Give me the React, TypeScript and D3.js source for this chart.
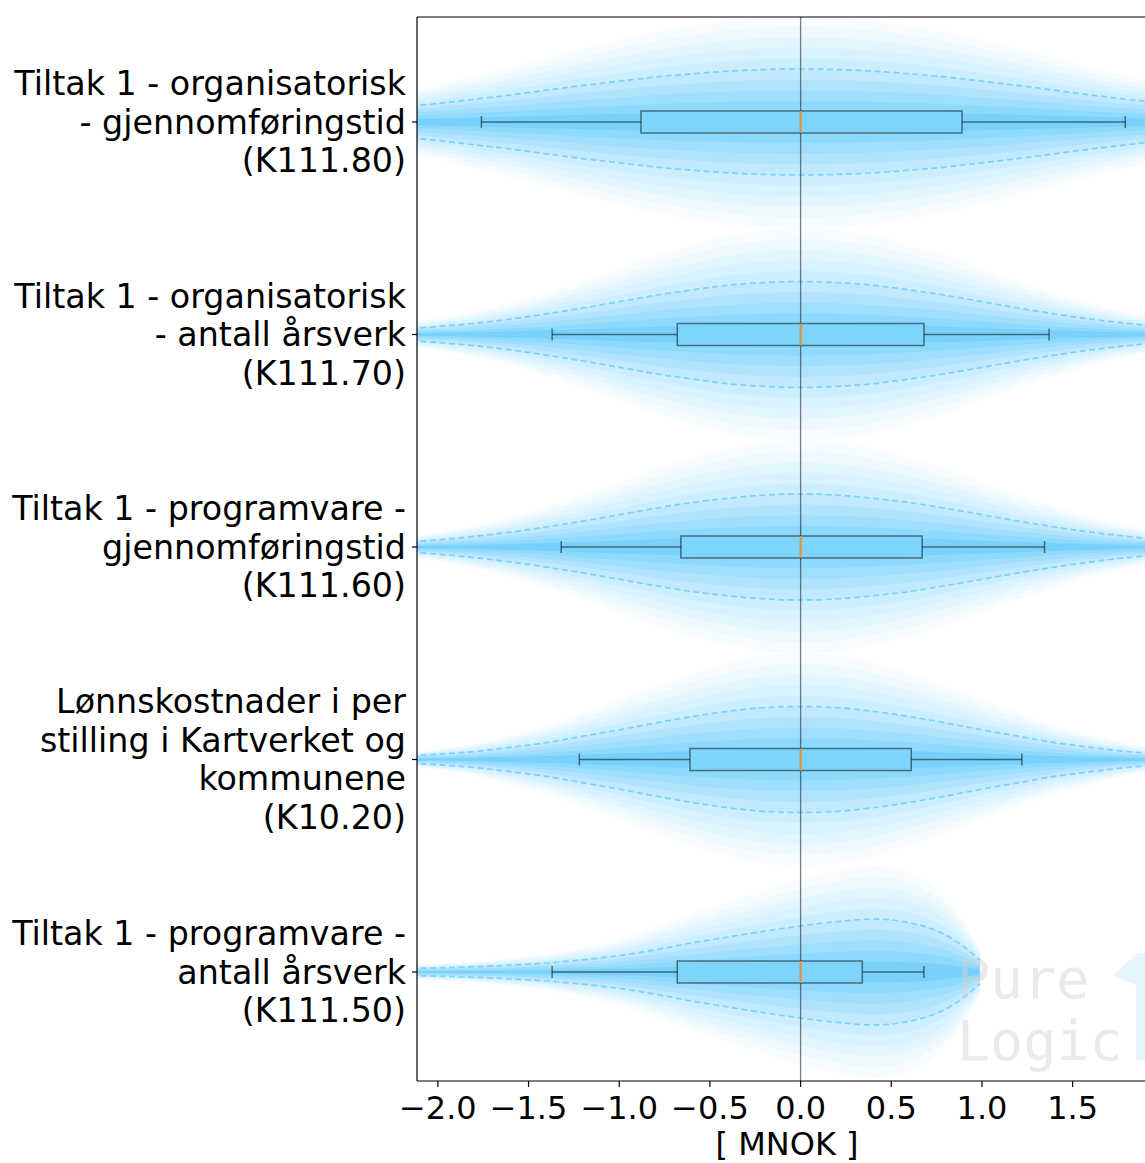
import React from "react";
import * as d3 from "d3";

const W = 1145;
const H = 1163;

const categoryLabels: string[][] = [
  ["Tiltak 1 - organisatorisk", "- gjennomføringstid", "(K111.80)"],
  ["Tiltak 1 - organisatorisk", "- antall årsverk", "(K111.70)"],
  ["Tiltak 1 - programvare -", "gjennomføringstid", "(K111.60)"],
  ["Lønnskostnader i per", "stilling i Kartverket og", "kommunene", "(K10.20)"],
  ["Tiltak 1 - programvare -", "antall årsverk", "(K111.50)"],
];

const whiskerLow = [-1.76, -1.37, -1.32, -1.22, -1.37];
const quartile1 = [-0.88, -0.68, -0.66, -0.61, -0.68];
const medians = [0, 0, 0, 0, 0];
const quartile3 = [0.89, 0.68, 0.67, 0.61, 0.34];
const whiskerHigh = [1.79, 1.37, 1.345, 1.22, 0.68];

const gridSym = [-2.2, -2.0, -1.8, -1.6, -1.4, -1.2, -1.0, -0.8, -0.6, -0.4, -0.2, 0, 0.2, 0.4, 0.6, 0.8, 1.0, 1.2, 1.4, 1.6, 1.8, 2.0, 2.2];
const density1 = [0.28, 0.35, 0.43, 0.51, 0.6, 0.69, 0.77, 0.85, 0.91, 0.96, 0.99, 1.0, 0.99, 0.96, 0.91, 0.85, 0.77, 0.69, 0.6, 0.51, 0.43, 0.35, 0.28];
const density2 = [0.1, 0.15, 0.21, 0.29, 0.39, 0.5, 0.62, 0.74, 0.84, 0.93, 0.98, 1.0, 0.98, 0.93, 0.84, 0.74, 0.62, 0.5, 0.39, 0.29, 0.21, 0.15, 0.1];
const density3 = [0.09, 0.135, 0.2, 0.28, 0.38, 0.49, 0.61, 0.73, 0.84, 0.92, 0.98, 1.0, 0.98, 0.92, 0.84, 0.73, 0.61, 0.49, 0.38, 0.28, 0.2, 0.135, 0.09];
const density4 = [0.06, 0.1, 0.15, 0.23, 0.32, 0.44, 0.56, 0.69, 0.81, 0.91, 0.98, 1.0, 0.98, 0.91, 0.81, 0.69, 0.56, 0.44, 0.32, 0.23, 0.15, 0.1, 0.06];
const grid5 = [-2.2, -2.0, -1.8, -1.6, -1.4, -1.2, -1.0, -0.8, -0.6, -0.4, -0.2, 0, 0.2, 0.4, 0.6, 0.8, 0.9, 0.99];
const density5 = [0.06, 0.08, 0.1, 0.13, 0.17, 0.23, 0.31, 0.42, 0.55, 0.66, 0.77, 0.87, 0.95, 1.0, 0.93, 0.7, 0.48, 0.22];

const densityGrids = [gridSym, gridSym, gridSym, gridSym, grid5];
const densities = [density1, density2, density3, density4, density5];

// opacity of each nested layer, innermost first
const layerOpacity = [0.14, 0.11, 0.09, 0.075, 0.062, 0.052, 0.045, 0.04, 0.036, 0.034];

const xTicks = [-2.0, -1.5, -1.0, -0.5, 0.0, 0.5, 1.0, 1.5];
const xLabel = "[ MNOK ]";

const axLeft = 417;
const axRight = 1157;
const axTop = 17;
const axBottom = 1081;
const halfMax = 106;
const FONT = "DejaVu Sans, sans-serif";
const labelSize = 33.3;
const tickSize = 32;
const lineGap = 38.5;

export default function App() {
  const x = d3.scaleLinear().domain([-2.115, 1.965]).range([axLeft, axRight]);
  const y = d3.scaleLinear().domain([1, 5]).range([122, 972]);
  const nLayers = layerOpacity.length;

  const fmt = (v: number) => (v < 0 ? "\u2212" : "") + Math.abs(v).toFixed(1);

  const violins = categoryLabels.map((_, i) => {
    const cy = y(i + 1);
    const pts = densityGrids[i].map((g, j) => [g, densities[i][j]] as [number, number]);
    const layers = d3.range(1, nLayers + 1).map((k) => {
      const frac = k / nLayers;
      const area = d3
        .area<[number, number]>()
        .x((d) => x(d[0]))
        .y0((d) => cy - d[1] * frac * halfMax)
        .y1((d) => cy + d[1] * frac * halfMax)
        .curve(d3.curveMonotoneX);
      return { d: area(pts) as string, op: layerOpacity[k - 1] };
    });
    const top = d3
      .line<[number, number]>()
      .x((d) => x(d[0]))
      .y((d) => cy - d[1] * 0.5 * halfMax)
      .curve(d3.curveMonotoneX)(pts) as string;
    const bot = d3
      .line<[number, number]>()
      .x((d) => x(d[0]))
      .y((d) => cy + d[1] * 0.5 * halfMax)
      .curve(d3.curveMonotoneX)(pts) as string;
    return { cy, layers, top, bot };
  });

  const boxHalf = 11;
  const capHalf = 6;

  return (
    <svg
      width={W}
      height={H}
      viewBox={`0 0 ${W} ${H}`}
      style={{ position: "absolute", left: 0, top: 0, display: "block", background: "#fff" }}
    >
      <defs>
        <clipPath id="axclip">
          <rect x={axLeft} y={axTop} width={axRight - axLeft} height={axBottom - axTop} />
        </clipPath>
      </defs>
      <rect x={0} y={0} width={W} height={H} fill="#fff" />
      <g clipPath="url(#axclip)">
        {violins.map((v, i) => (
          <g key={i}>
            {v.layers.map((p, k) => (
              <path key={k} d={p.d} fill="rgb(0,172,248)" fillOpacity={p.op} stroke="none" />
            ))}
            <path d={v.top} fill="none" stroke="#7dd3fa" strokeWidth={1.7} strokeDasharray="6,3.5" />
            <path d={v.bot} fill="none" stroke="#7dd3fa" strokeWidth={1.7} strokeDasharray="6,3.5" />
          </g>
        ))}
        {/* watermark */}
        <g>
          <path
            d="M1113,975 L1138,953 L1160,953 L1160,1060 L1136,1060 L1136,985 Z"
            fill="#d6effc"
            fillOpacity={0.6}
          />
          <text x={957} y={998} fontFamily="DejaVu Sans Mono, monospace" fontSize={55} fill="#d0d0d0" fillOpacity={0.45}>
            Pure
          </text>
          <text x={957} y={1060} fontFamily="DejaVu Sans Mono, monospace" fontSize={55} fill="#d0d0d0" fillOpacity={0.45}>
            Logic
          </text>
        </g>
        {/* zero line */}
        <line x1={x(0)} x2={x(0)} y1={axTop} y2={axBottom} stroke="#000" strokeOpacity={0.5} strokeWidth={1.3} />
        {categoryLabels.map((_, i) => {
          const cy = y(i + 1);
          return (
            <g key={i}>
              <rect
                x={x(quartile1[i])}
                y={cy - boxHalf}
                width={x(quartile3[i]) - x(quartile1[i])}
                height={boxHalf * 2}
                fill="#7fd4fd"
                fillOpacity={0.75}
                stroke="#000"
                strokeOpacity={0.5}
                strokeWidth={1.5}
              />
              <line x1={x(whiskerLow[i])} x2={x(quartile1[i])} y1={cy} y2={cy} stroke="#000" strokeOpacity={0.5} strokeWidth={1.5} />
              <line x1={x(quartile3[i])} x2={x(whiskerHigh[i])} y1={cy} y2={cy} stroke="#000" strokeOpacity={0.5} strokeWidth={1.5} />
              <line x1={x(whiskerLow[i])} x2={x(whiskerLow[i])} y1={cy - capHalf} y2={cy + capHalf} stroke="#000" strokeOpacity={0.5} strokeWidth={1.5} />
              <line x1={x(whiskerHigh[i])} x2={x(whiskerHigh[i])} y1={cy - capHalf} y2={cy + capHalf} stroke="#000" strokeOpacity={0.5} strokeWidth={1.5} />
              <line x1={x(medians[i])} x2={x(medians[i])} y1={cy - boxHalf} y2={cy + boxHalf} stroke="#f28a2e" strokeWidth={2} />
            </g>
          );
        })}
      </g>
      {/* spines */}
      <line x1={axLeft} x2={axLeft} y1={axTop} y2={axBottom} stroke="#000" strokeWidth={1.2} />
      <line x1={axLeft} x2={axRight} y1={axTop} y2={axTop} stroke="#000" strokeWidth={1.2} />
      <line x1={axLeft} x2={axRight} y1={axBottom} y2={axBottom} stroke="#000" strokeWidth={1.2} />
      <line x1={axRight} x2={axRight} y1={axTop} y2={axBottom} stroke="#000" strokeWidth={1.2} />
      {/* y ticks + labels */}
      {categoryLabels.map((lines, i) => {
        const cy = y(i + 1);
        const n = lines.length;
        return (
          <g key={i}>
            <line x1={axLeft - 5} x2={axLeft} y1={cy} y2={cy} stroke="#000" strokeWidth={1.2} />
            {lines.map((t, j) => (
              <text
                key={j}
                x={406}
                y={cy + (j - (n - 1) / 2) * lineGap}
                textAnchor="end"
                dominantBaseline="central"
                fontFamily={FONT}
                fontSize={labelSize}
                fill="#000"
              >
                {t}
              </text>
            ))}
          </g>
        );
      })}
      {/* x ticks */}
      {xTicks.map((t) => (
        <g key={t}>
          <line x1={x(t)} x2={x(t)} y1={axBottom} y2={axBottom + 6} stroke="#000" strokeWidth={1.2} />
          <text x={x(t)} y={1108} textAnchor="middle" dominantBaseline="central" fontFamily={FONT} fontSize={tickSize} fill="#000">
            {fmt(t)}
          </text>
        </g>
      ))}
      <text x={(axLeft + axRight) / 2} y={1144} textAnchor="middle" dominantBaseline="central" fontFamily={FONT} fontSize={tickSize} fill="#000">
        {xLabel}
      </text>
    </svg>
  );
}
